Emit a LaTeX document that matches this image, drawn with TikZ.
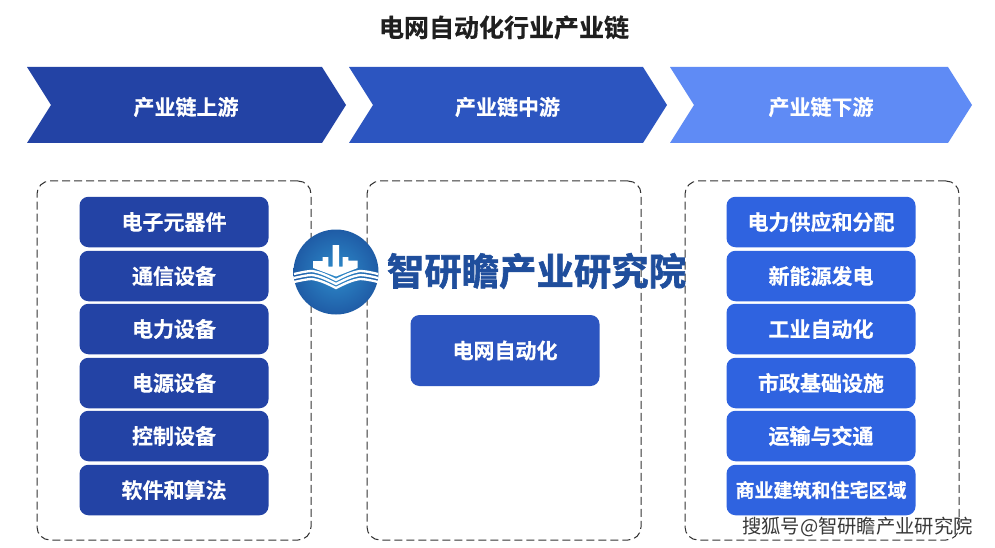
\documentclass[tikz,border=0pt]{standalone}
\usepackage{fontspec}
\setmainfont{Noto Sans CJK SC}[BoldFont={Noto Sans CJK SC Bold}]
\newfontfamily\heavycjk{Noto Sans CJK SC Bold}[FakeBold=0.5]
\newfontfamily\wmcjk{Noto Sans CJK SC Bold}[FakeBold=1.6]
\definecolor{upc}{HTML}{2343A5}
\definecolor{midc}{HTML}{2C55C0}
\definecolor{downc}{HTML}{2F63E0}
\definecolor{chevthree}{HTML}{5F8BF5}
\definecolor{wmark}{HTML}{1F4E9C}
\definecolor{logoout}{HTML}{1F5CA6}
\definecolor{logoin}{HTML}{2E8CCB}
\tikzset{
  x=1pt,y=-1pt,
  label text/.style={font=\fontsize{21}{23}\selectfont\heavycjk,text=white,inner sep=0pt},
  pill/.style={rounded corners=9pt,minimum width=189pt,minimum height=50.5pt,inner sep=0pt,
    font=\fontsize{21}{23}\selectfont\heavycjk,text=white},
  dashbox/.style={draw=black!80,line width=1pt,dash pattern=on 8pt off 4pt,rounded corners=13pt,
    minimum width=274pt,minimum height=359pt,inner sep=0pt,fill=white},
  wave/.style={draw=white,line width=2.3pt}
}
\begin{document}
\begin{tikzpicture}
\useasboundingbox[fill=white] (0,0) rectangle (995,548);
% title
\node[font=\fontsize{25}{27}\selectfont\heavycjk,text=black!88,inner sep=0pt] (title) at (504,27.5) {电网自动化行业产业链};
% chevrons
\fill[upc] (27,67) -- (322,67) -- (346,105) -- (322,143) -- (27,143) -- (51,105) -- cycle;
\fill[midc] (349,67) -- (643,67) -- (667,105) -- (643,143) -- (349,143) -- (373,105) -- cycle;
\fill[chevthree] (670,67) -- (948,67) -- (972,105) -- (948,143) -- (670,143) -- (694,105) -- cycle;
\node[label text] (chevA) at (186,107) {产业链上游};
\node[label text] (chevB) at (507.5,107) {产业链中游};
\node[label text] (chevC) at (821,107) {产业链下游};
% dashed panels
\node[dashbox] (panelA) at (174,360.5) {};
\node[dashbox] (panelB) at (504,360.5) {};
\node[dashbox] (panelC) at (822,360.5) {};
% left column
\foreach \nm/\yy/\tx in {a1/222/电子元器件,a2/276/通信设备,a3/329/电力设备,a4/383/电源设备,a5/436/控制设备,a6/490/软件和算法}{
  \node[pill,fill=upc] (\nm) at (174,\yy) {\raisebox{-1pt}{\tx}};
}
% middle
\node[pill,fill=midc,minimum height=71pt] (m1) at (505,350.5) {\raisebox{-1pt}{电网自动化}};
% right column
\foreach \nm/\yy/\tx in {c1/222/电力供应和分配,c2/276/新能源发电,c3/329/工业自动化,c4/383/市政基础设施,c5/436/运输与交通}{
  \node[pill,fill=downc] (\nm) at (821,\yy) {\raisebox{-1pt}{\tx}};
}
\node[pill,fill=downc,font=\fontsize{19}{21}\selectfont\heavycjk] (c6) at (821,490) {\raisebox{-1pt}{商业建筑和住宅区域}};
% logo
\shade[inner color=logoin,outer color=logoout] (336,272) circle (42.5);
\fill[white] (313,268) -- (313,261) -- (322.7,261) -- (322.7,257) -- (328.3,257) -- (328.3,266.7) -- (332.7,266.7) -- (332.7,245) -- (339,245) -- (339,266.7) -- (342.7,266.7) -- (342.7,257) -- (348.3,257) -- (348.3,260.7) -- (357.7,260.7) -- (357.7,268) -- (336,276.5) -- cycle;
\foreach \dy in {0,4,8}{
  \draw[wave,yshift=-\dy pt] (294,274) .. controls (303,272) and (308,271) .. (312,271) .. controls (320,272) and (328,276) .. (336,280) .. controls (344,276) and (352,272) .. (360,271) .. controls (364,271) and (370,272) .. (378,274);
}
% watermark
\node[font=\fontsize{37.4}{39}\selectfont\wmcjk,text=wmark,inner sep=0pt] (wm) at (536.5,271) {智研瞻产业研究院};
% footer
\node[font=\fontsize{19.3}{21}\selectfont,text=black!78,inner sep=0pt] (foot) at (857.5,527) {搜狐号@智研瞻产业研究院};
\end{tikzpicture}
\end{document}
